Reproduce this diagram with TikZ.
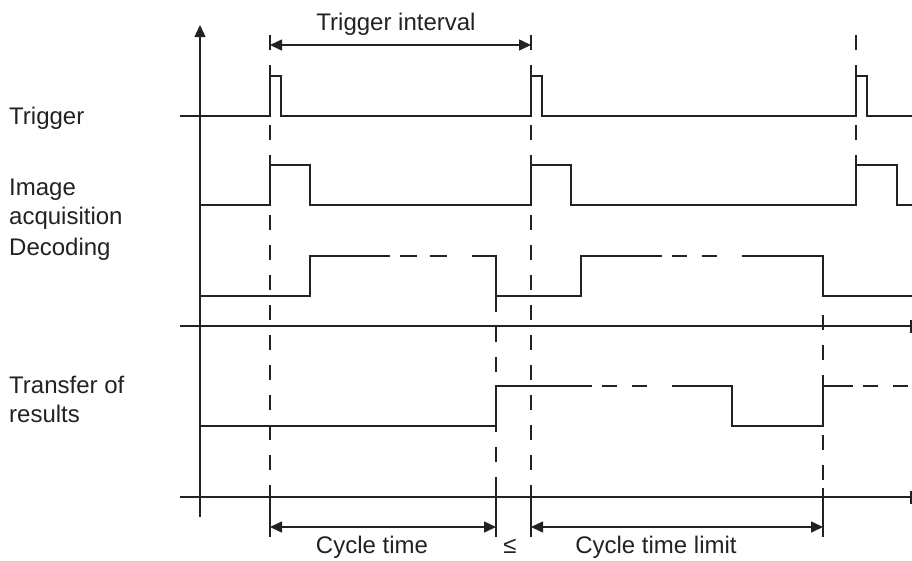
\documentclass[tikz,border=0pt]{standalone}
\usepackage{fontspec}
\setmainfont{Liberation Sans}
\usetikzlibrary{arrows.meta}
\definecolor{ink}{HTML}{222222}
\begin{document}
\begin{tikzpicture}[x=1pt,y=-1pt,
  signal/.style={draw=ink, line width=2pt, line join=miter},
  axis/.style={draw=ink, line width=1.3pt},
  guide/.style={draw=ink, line width=1.4pt, dash pattern=on 15pt off 15pt},
  dimline/.style={draw=ink, line width=1.5pt,
    {Triangle[length=12pt,width=11pt]}-{Triangle[length=12pt,width=11pt]}},
  lbl/.style={anchor=base west, inner sep=0pt, text=ink,
    font=\fontsize{24}{30}\selectfont},
  dimlbl/.style={anchor=base, inner sep=0pt, text=ink,
    font=\fontsize{24}{30}\selectfont}]
\useasboundingbox (0,0) rectangle (912,560);

% time axes
\draw[axis, -{Triangle[length=12pt,width=11pt]}] (200,517) -- (200,25);
\draw[axis] (180,326) -- (911,326);
\draw[axis] (911,319.5) -- (911,332.5);
\draw[axis] (180,497) -- (911,497);
\draw[axis] (911,490.5) -- (911,503.5);

% vertical guide lines
\draw[guide] (270,35) -- (270,490);
\draw[guide] (531,35) -- (531,490);
\draw[guide] (856,35) -- (856,165);
\draw[guide] (496,297) -- (496,490);
\draw[guide] (823,315) -- (823,490);
\draw[axis] (270,488) -- (270,537);
\draw[axis] (531,488) -- (531,537);
\draw[axis] (496,488) -- (496,537);
\draw[axis] (823,488) -- (823,537);

% trigger pulses
\draw[signal] (180,116) -- (270,116) -- (270,76) -- (281,76) -- (281,116)
  -- (531,116) -- (531,76) -- (542,76) -- (542,116)
  -- (856,116) -- (856,76) -- (867,76) -- (867,116) -- (912,116);

% image acquisition
\draw[signal] (200,205) -- (270,205) -- (270,165) -- (310,165) -- (310,205)
  -- (531,205) -- (531,165) -- (571,165) -- (571,205)
  -- (856,205) -- (856,165) -- (897,165) -- (897,205) -- (912,205);

% decoding
\draw[signal] (200,296) -- (310,296) -- (310,256) -- (390,256);
\draw[signal] (400,256) -- (417,256) (430,256) -- (447,256);
\draw[signal] (472,256) -- (496,256) -- (496,296) -- (581,296) -- (581,256) -- (662,256);
\draw[signal] (672,256) -- (687,256) (702,256) -- (717,256);
\draw[signal] (742,256) -- (823,256) -- (823,296) -- (912,296);

% transfer of results
\draw[signal] (200,426) -- (496,426) -- (496,386) -- (592,386);
\draw[signal] (602,386) -- (617,386) (632,386) -- (647,386);
\draw[signal] (672,386) -- (732,386) -- (732,426) -- (823,426) -- (823,386) -- (853,386);
\draw[signal] (863,386) -- (878,386) (893,386) -- (908,386);

% dimension arrows
\draw[dimline] (270,45) -- (531,45);
\draw[dimline] (270,527) -- (496,527);
\draw[dimline] (531,527) -- (823,527);

% labels
\node[dimlbl] (ti) at (396,30) {Trigger interval};
\node[dimlbl] (ct) at (372,553) {Cycle time};
\node[dimlbl] (le) at (510,553) {≤};
\node[dimlbl] (cl) at (656,553) {Cycle time limit};

\node[lbl] (trg) at (9,124) {Trigger};
\node[lbl] (img) at (9,195) {Image};
\node[lbl] (acq) at (9,224) {acquisition};
\node[lbl] (dec) at (9,255) {Decoding};
\node[lbl] (tr1) at (9,393) {Transfer of};
\node[lbl] (tr2) at (9,422) {results};
\end{tikzpicture}
\end{document}
